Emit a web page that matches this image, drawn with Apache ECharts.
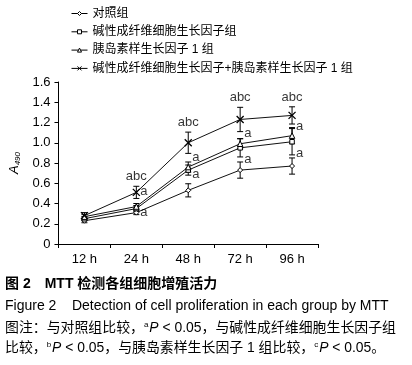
<!DOCTYPE html>
<html>
<head>
<meta charset="utf-8">
<script src="https://cdn.jsdelivr.net/npm/echarts@6/dist/echarts.min.js"></script>
<style>
html,body{margin:0;padding:0;background:#fff;}
#main{width:412px;height:365px;}
</style>
</head>
<body>
<div id="main"></div>
<script>
// ---- data ----
const categories = ['12 h', '24 h', '48 h', '72 h', '96 h'];
const seriesNames = ['对照组', '碱性成纤维细胞生长因子组', '胰岛素样生长因子 1 组', '碱性成纤维细胞生长因子+胰岛素样生长因子 1 组'];
const control = [0.23, 0.31, 0.53, 0.73, 0.77];
const controlSD = [0.02, 0.02, 0.065, 0.08, 0.08];
const bfgf = [0.25, 0.35, 0.73, 0.95, 1.01];
const bfgfSD = [0.02, 0.03, 0.05, 0.09, 0.13];
const igf = [0.27, 0.37, 0.76, 0.99, 1.07];
const igfSD = [0.02, 0.03, 0.05, 0.05, 0.08];
const combo = [0.28, 0.51, 1.0, 1.23, 1.27];
const comboSD = [0.03, 0.06, 0.105, 0.12, 0.085];
const yTicks = [0, 0.2, 0.4, 0.6, 0.8, 1.0, 1.2, 1.4, 1.6];
// significance annotations
const abcCats = [1, 2, 3, 4];
const aLabelCats = [1, 1, 2, 2, 3, 3, 4, 4];
const aLabelVals = [0.52, 0.31, 0.855, 0.685, 1.09, 0.835, 1.16, 0.895];

const FONT = "'Liberation Sans', Arial, 'Noto Sans CJK SC', sans-serif";
const allMeans = [control, bfgf, igf, combo];
const allSD = [controlSD, bfgfSD, igfSD, comboSD];
const symbols = ['diamond', 'rect', 'triangle', 'path://M0,0L10,10M10,0L0,10'];
const symbolSizes = [5, 4.5, 5.5, 7];

const chart = echarts.init(document.getElementById('main'), null, {renderer: 'canvas'});

function errRender(params, api) {
  const c = api.value(0);
  const hi = api.coord([c, api.value(2)]);
  const lo = api.coord([c, api.value(3)]);
  const w = 3;
  const st = {stroke: '#000', lineWidth: 1};
  return {
    type: 'group',
    children: [
      {type: 'line', shape: {x1: hi[0], y1: hi[1], x2: lo[0], y2: lo[1]}, style: st},
      {type: 'line', shape: {x1: hi[0] - w, y1: hi[1], x2: hi[0] + w, y2: hi[1]}, style: st},
      {type: 'line', shape: {x1: lo[0] - w, y1: lo[1], x2: lo[0] + w, y2: lo[1]}, style: st}
    ]
  };
}

const series = [];
allMeans.forEach((m, k) => {
  series.push({
    type: 'custom',
    renderItem: errRender,
    data: m.map((v, i) => [i, v, v + allSD[k][i], v - allSD[k][i]]),
    encode: {x: 0, y: [1, 2, 3]},
    z: 1,
    silent: true
  });
});
allMeans.forEach((m, k) => {
  const isCross = k === 3;
  series.push({
    name: seriesNames[k],
    type: 'line',
    data: m,
    symbol: symbols[k],
    symbolSize: symbolSizes[k],
    showAllSymbol: true,
    lineStyle: {color: '#111', width: 1},
    itemStyle: isCross ? {color: '#000', borderColor: '#000', borderWidth: 1.3}
                       : {color: '#fff', borderColor: '#000', borderWidth: 1},
    z: 3,
    animation: false
  });
});
// annotation series
series.push({
  type: 'scatter',
  symbolSize: 0,
  silent: true,
  data: abcCats.map(i => [i, combo[i] + comboSD[i]]),
  label: {show: true, position: 'top', distance: 3, formatter: 'abc', color: '#000', fontSize: 13, fontFamily: FONT},
  z: 5
});
series.push({
  type: 'scatter',
  symbolSize: 0,
  silent: true,
  data: aLabelCats.map((c, i) => [c, aLabelVals[i]]),
  label: {show: true, position: 'right', distance: 4, formatter: 'a', color: '#000', fontSize: 13, fontFamily: FONT},
  z: 5
});

const option = {
  animation: false,
  backgroundColor: '#fff',
  textStyle: {fontFamily: FONT},
  grid: {left: 52, right: 94, top: 82, bottom: 121},
  legend: {
    data: seriesNames,
    orient: 'vertical',
    left: 71,
    top: 7,
    padding: 0,
    itemWidth: 16,
    itemHeight: 5,
    itemGap: 5.3,
    itemStyle: {color: '#fff', borderColor: '#000', borderWidth: 1},
    lineStyle: {color: '#000', width: 1},
    textStyle: {fontSize: 12, color: '#000', fontFamily: FONT, lineHeight: 13},
    selectedMode: false
  },
  xAxis: {
    type: 'category',
    data: categories,
    boundaryGap: true,
    axisLine: {lineStyle: {color: '#000', width: 1}},
    axisTick: {show: true, length: 4, lineStyle: {color: '#000'}},
    axisLabel: {color: '#000', fontSize: 13, margin: 9, fontFamily: FONT},
    splitLine: {show: false}
  },
  yAxis: {
    type: 'value',
    min: yTicks[0],
    max: yTicks[yTicks.length - 1],
    interval: 0.2,
    name: '{i|A}{s|490}',
    nameLocation: 'middle',
    nameRotate: 90,
    nameGap: 35,
    nameTextStyle: {
      rich: {
        i: {fontStyle: 'italic', fontSize: 13, color: '#000', fontFamily: FONT},
        s: {fontStyle: 'italic', fontSize: 8, color: '#000', fontFamily: FONT, padding: [6, 0, 0, 0]}
      }
    },
    axisLine: {show: true, lineStyle: {color: '#000', width: 1}},
    axisTick: {show: true, length: 4, lineStyle: {color: '#000'}},
    axisLabel: {color: '#000', fontSize: 13, margin: 8, fontFamily: FONT,
      formatter: v => (v === 0 ? '0' : v.toFixed(1))},
    splitLine: {show: false}
  },
  series: series,
  graphic: [
    {type: 'text', left: 5, top: 277, style: {
      text: '图 2　MTT 检测各组细胞增殖活力', font: "bold 14px 'Liberation Sans', 'Noto Sans CJK SC', sans-serif", fill: '#000'}},
    {type: 'text', left: 5, top: 299, style: {
      text: 'Figure 2    Detection of cell proliferation in each group by MTT', font: "14px 'Liberation Sans', sans-serif", fill: '#000'}},
    {type: 'text', left: 5, top: 321, style: {
      text: '图注：与对照组比较，{sup|a}{p|P} < 0.05，与碱性成纤维细胞生长因子组',
      font: "13.9px 'Liberation Sans', 'Noto Sans CJK SC', sans-serif", fill: '#000',
      rich: {sup: {fontSize: 8, padding: [0, 1, 7, 0], fill: '#000', fontFamily: FONT}, p: {fontStyle: 'italic', fontSize: 13.9, fill: '#000', fontFamily: FONT}}}},
    {type: 'text', left: 5, top: 341, style: {
      text: '比较，{sup|b}{p|P} < 0.05，与胰岛素样生长因子 1 组比较，{sup|c}{p|P} < 0.05。',
      font: "13.9px 'Liberation Sans', 'Noto Sans CJK SC', sans-serif", fill: '#000',
      rich: {sup: {fontSize: 8, padding: [0, 1, 7, 0], fill: '#000', fontFamily: FONT}, p: {fontStyle: 'italic', fontSize: 13.9, fill: '#000', fontFamily: FONT}}}}
  ]
};
chart.setOption(option);
</script>
</body>
</html>
